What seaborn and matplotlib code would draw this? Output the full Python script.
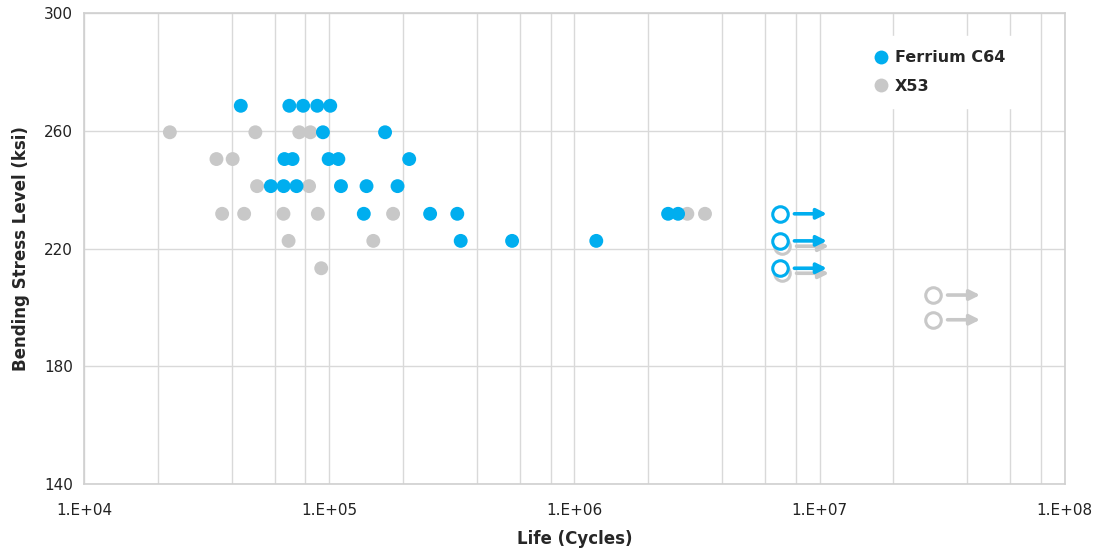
import numpy as np
import pandas as pd
import matplotlib.pyplot as plt
import seaborn as sns
from matplotlib.ticker import FixedLocator, FuncFormatter, NullFormatter

sns.set_theme(style="white")
plt.rcParams['font.family'] = ['DejaVu Sans']

BLUE = '#00AEEF'
GRAY = '#C8C8C8'

# failures (filled markers)
c64_life = [43600, 68800, 78300, 89400, 101000,
            94300, 169000,
            65700, 70900, 99500, 109000, 212000,
            57800, 65200, 73600, 111700, 142000, 190000,
            138400, 258000, 333000, 2410000, 2647000,
            343800, 557000, 1228000]
c64_stress = [268.5, 268.5, 268.5, 268.5, 268.5,
              259.5, 259.5,
              250.4, 250.4, 250.4, 250.4, 250.4,
              241.2, 241.2, 241.2, 241.2, 241.2, 241.2,
              231.8, 231.8, 231.8, 231.8, 231.8,
              222.6, 222.6, 222.6]

x53_life = [22400, 50000, 75500, 83800,
            34700, 40400,
            50800, 82800,
            36600, 45000, 65100, 89900, 182200, 2888000, 3408000,
            68300, 151300,
            92800]
x53_stress = [259.5, 259.5, 259.5, 259.5,
              250.4, 250.4,
              241.2, 241.2,
              231.8, 231.8, 231.8, 231.8, 231.8, 231.8, 231.8,
              222.6, 222.6,
              213.3]

# run-outs (open markers with arrows)
c64_runout_life = [6.86e6, 6.86e6, 6.86e6]
c64_runout_stress = [231.8, 222.6, 213.3]
x53_runout_life = [7.0e6, 7.0e6, 2.89e7, 2.89e7]
x53_runout_stress = [220.8, 211.6, 204.2, 195.8]

y_ticks = [140, 180, 220, 260, 300]
x_decades = [1e4, 1e5, 1e6, 1e7, 1e8]

df = pd.concat([
    pd.DataFrame({'life': x53_life, 'stress': x53_stress, 'alloy': 'X53'}),
    pd.DataFrame({'life': c64_life, 'stress': c64_stress, 'alloy': 'Ferrium C64'}),
], ignore_index=True)

fig = plt.figure(figsize=(10.96, 5.56), dpi=100)
ax = fig.add_axes([0.0766, 0.1295, 0.895, 0.847])

ax.set_xscale('log')
ax.set_xlim(1e4, 1e8)
ax.set_ylim(140, 300)

sns.scatterplot(data=df, x='life', y='stress', hue='alloy',
                hue_order=['Ferrium C64', 'X53'],
                palette={'Ferrium C64': BLUE, 'X53': GRAY},
                s=100, linewidth=0, ax=ax, zorder=3)


def runouts(xs, ys, color, z):
    ax.scatter(xs, ys, s=125, facecolors='white', edgecolors=color,
               linewidths=2.2, zorder=z)
    for x, y in zip(xs, ys):
        ax.annotate('', xy=(x * 1.56, y), xytext=(x * 1.15, y),
                    arrowprops=dict(arrowstyle='-|>', color=color, lw=2.6,
                                    mutation_scale=15, shrinkA=0, shrinkB=0),
                    zorder=z)


runouts(x53_runout_life, x53_runout_stress, GRAY, 4)
runouts(c64_runout_life, c64_runout_stress, BLUE, 5)

# grid
minor = [d * m for d in x_decades[:-1] for m in (2, 4, 6, 8)]
ax.xaxis.set_major_locator(FixedLocator(x_decades))
ax.xaxis.set_minor_locator(FixedLocator(minor))
ax.xaxis.set_minor_formatter(NullFormatter())
ax.xaxis.set_major_formatter(FuncFormatter(lambda v, p: '1.E+%02d' % round(np.log10(v))))
ax.set_yticks(y_ticks)
ax.grid(True, which='both', axis='x', color='#d9d9d9', lw=1)
ax.grid(True, which='major', axis='y', color='#d9d9d9', lw=1)
ax.set_axisbelow(True)
for sp in ax.spines.values():
    sp.set_color('#d0d0d0')
    sp.set_linewidth(1.2)
ax.tick_params(axis='both', which='both', length=0, labelsize=11,
               labelcolor='#222222', pad=8)
ax.tick_params(axis='x', pad=14)

ax.set_xlabel('Life (Cycles)', fontsize=12, fontweight='bold', labelpad=8)
ax.set_ylabel('Bending Stress Level (ksi)', fontsize=12, fontweight='bold', labelpad=10)

leg = ax.legend(loc='upper right', bbox_to_anchor=(0.962, 0.968), frameon=True,
                facecolor='white', edgecolor='white', fancybox=False, framealpha=1,
                fontsize=11.5, handletextpad=0.35, borderpad=0.9, labelspacing=0.85,
                handlelength=1.0)
for t in leg.get_texts():
    t.set_fontweight('bold')
leg.set_zorder(10)

plt.savefig('out.png', dpi=100)
